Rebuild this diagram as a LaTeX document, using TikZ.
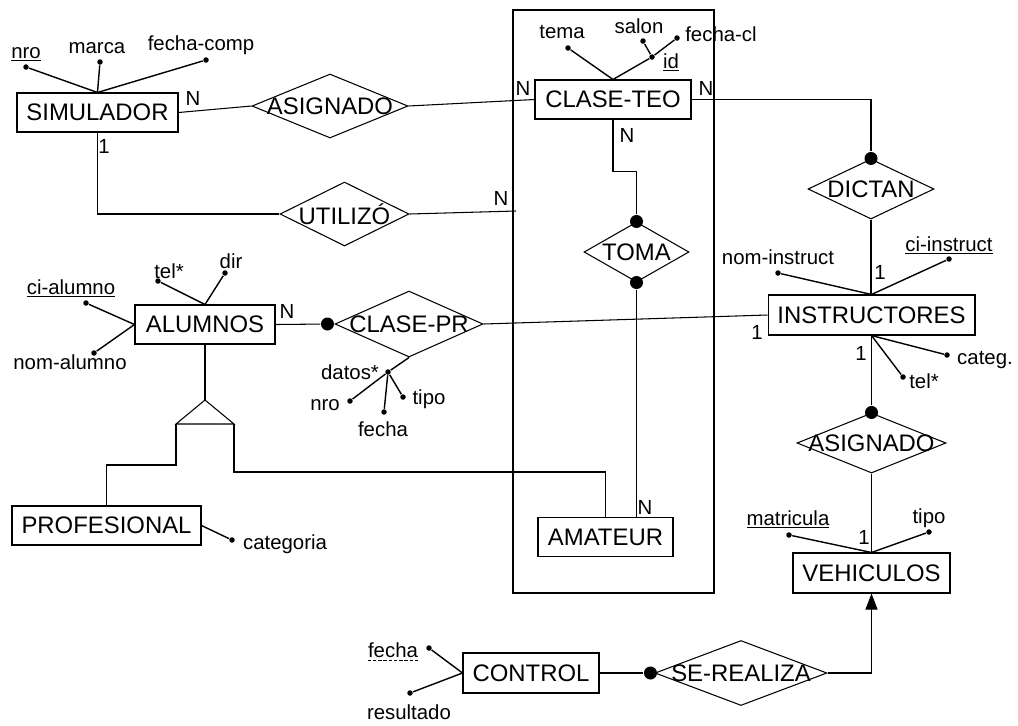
\documentclass[tikz,border=0pt]{standalone}
\usepackage{fontspec}
\setmainfont{Liberation Sans}
\usetikzlibrary{shapes.geometric,arrows.meta,positioning}

\newcommand{\rtext}[1]{\makebox[0pt]{#1}}

\begin{document}
\begin{tikzpicture}[x=0.02cm,y=-0.02cm,line width=0.6pt,
  ent/.style={draw,inner sep=0pt,minimum height=0.78cm,font=\fontsize{13.6}{15}\selectfont},
  rel/.style={draw,shape=diamond,inner sep=0pt,font=\fontsize{13.6}{15}\selectfont},
  attr/.style={circle,fill=black,inner sep=0pt,minimum size=0.11cm},
  part/.style={circle,fill=black,inner sep=0pt,minimum size=0.26cm},
  lbl/.style={inner sep=0pt,text height=8pt,text depth=0pt,font=\fontsize{11.6}{13}\selectfont},
  attrline/.style={line width=0.8pt}]

\useasboundingbox (0,0) rectangle (1018,725);

% grupo de clases
\draw (513,10) rectangle (714,593);

% entidades
\node[ent,minimum width=3.22cm] (simulador) at (97.5,112.5) {SIMULADOR};
\node[ent,minimum width=3.12cm] (claseteo) at (613,99.5) {CLASE-TEO};
\node[ent,minimum width=2.8cm] (alumnos) at (205,324.5) {ALUMNOS};
\node[ent,minimum width=4.14cm,minimum height=0.8cm] (instructores) at (871.5,315) {INSTRUCTORES};
\node[ent,minimum width=3.78cm] (profesional) at (106.5,525.5) {PROFESIONAL};
\node[ent,minimum width=2.7cm] (amateur) at (605.5,537) {AMATEUR};
\node[ent,minimum width=3.14cm,minimum height=0.8cm] (vehiculos) at (871.5,573) {VEHICULOS};
\node[ent,minimum width=2.72cm,minimum height=0.8cm] (control) at (531,673) {CONTROL};

% relaciones
\node[rel,minimum width=3.12cm,minimum height=1.28cm] (asignado) at (330,106) {\rtext{ASIGNADO}};
\node[rel,minimum width=2.58cm,minimum height=1.28cm] (utilizo) at (344.5,214) {\rtext{UTILIZÓ}};
\node[rel,minimum width=2.52cm,minimum height=1.2cm] (dictan) at (871,189) {\rtext{DICTAN}};
\node[rel,minimum width=2.1cm,minimum height=1.2cm] (toma) at (636.5,252) {\rtext{TOMA}};
\node[rel,minimum width=2.96cm,minimum height=1.32cm] (clasepr) at (409,324) {\rtext{CLASE-PR}};
\node[rel,minimum width=2.98cm,minimum height=1.2cm] (asigveh) at (871.5,443) {\rtext{ASIGNADO}};
\node[rel,minimum width=3.44cm,minimum height=1.3cm] (serealiza) at (741,673) {\rtext{SE-REALIZA}};

% participacion total
\node[part] (dictanD) at (dictan.north) {};
\node[part] (tomaDn) at (toma.north) {};
\node[part] (tomaDs) at (toma.south) {};
\node[part,left=0pt of clasepr.west] (clprD) {};
\node[part] (asigvehD) at (asigveh.north) {};
\node[part,left=-0.06cm of serealiza.west] (srD) {};

% vinculos
\coordinate (utilEnd) at (516,211);
\draw (simulador.east) -- (asignado.west);
\draw (asignado.east) -- (claseteo.west);
\draw (simulador.south) |- (utilizo.west);
\draw (utilizo.east) -- (utilEnd);
\draw (claseteo.east) -| (dictanD);
\draw (dictan.south) -- (dictan.south |- instructores.north);
\draw (claseteo.south) -- ++(0,52) -| (tomaDn);
\draw (tomaDs) -- (tomaDs |- amateur.north);
\draw (alumnos.east) -- (clprD);
\draw (clasepr.east) -- (instructores.west);
\draw (instructores.south) -- (asigvehD);
\draw (asigveh.south) -- (vehiculos.north);
\draw (control.east) -- (srD);
\draw[-{Triangle[length=0.32cm,width=0.24cm]}] (serealiza.east) -| (vehiculos.south);

% generalizacion
\coordinate (isaA) at (205,400);
\coordinate (isaL) at (176,424);
\coordinate (isaR) at (234,424);
\draw (alumnos.south) -- (isaA);
\draw (isaA) -- (isaL) -- (isaR) -- cycle;
\draw (isaL) -- ++(0,41) -| (profesional.north);
\draw (isaR) -- ++(0,48) -| (amateur.north);

% cardinalidades
\node[lbl] (cSimA) at (193,98) {N};
\node[lbl] (cSimU) at (104,146) {1};
\node[lbl] (cTeoA) at (523,88) {N};
\node[lbl] (cTeoD) at (706,88) {N};
\node[lbl] (cTeoT) at (627,135) {N};
\node[lbl] (cTeoU) at (501,198) {N};
\node[lbl] (cAlu) at (287,311) {N};
\node[lbl] (cAma) at (645,507) {N};
\node[lbl] (cInsD) at (880,272) {1};
\node[lbl] (cInsC) at (757,332) {1};
\node[lbl] (cInsA) at (861,353) {1};
\node[lbl] (cVeh) at (864,537) {1};

% atributos SIMULADOR
\node[attr] (nroS) at (26,67) {};
\node[attr] (marca) at (100,62) {};
\node[attr] (fcomp) at (206,60) {};
\node[lbl] (nroSL) at (26,51) {\underline{nro}};
\node[lbl] (marcaL) at (97,46) {marca};
\node[lbl] (fcompL) at (201,43) {fecha-comp};
\draw[attrline] (simulador.north) -- (nroS);
\draw[attrline] (simulador.north) -- (marca);
\draw[attrline] (simulador.north) -- (fcomp);

% atributos CLASE-TEO
\node[attr] (tema) at (568,48) {};
\node[attr] (idT) at (652,57) {};
\node[attr] (salon) at (643,41) {};
\node[attr] (fcl) at (677,38) {};
\node[lbl] (temaL) at (562,31) {tema};
\node[lbl] (salonL) at (639,26) {salon};
\node[lbl] (fclL) at (721,34) {fecha-cl};
\node[lbl] (idTL) at (671,61) {\underline{id}};
\draw[attrline] (claseteo.north) -- (tema);
\draw[attrline] (claseteo.north) -- (idT) -- (fcl);
\draw[attrline] (salon) -- (idT);

% atributos ALUMNOS
\node[attr] (cial) at (86,303) {};
\node[attr] (nomal) at (94,353) {};
\node[attr] (telA) at (158,281) {};
\node[attr] (dir) at (225,273) {};
\node[lbl] (cialL) at (71,287) {\underline{ci-alumno}};
\node[lbl] (nomalL) at (70,362) {nom-alumno};
\node[lbl] (telAL) at (169,271) {tel*};
\node[lbl] (dirL) at (231,261) {dir};
\draw[attrline] (alumnos.west) -- (cial);
\draw[attrline] (alumnos.west) -- (nomal);
\draw[attrline] (alumnos.north) -- (telA);
\draw[attrline] (alumnos.north) -- (dir);

% atributos CLASE-PR
\node[attr] (datos) at (388,372) {};
\node[attr] (nroP) at (350,401) {};
\node[attr] (fechaP) at (384,412) {};
\node[attr] (tipoP) at (403,397) {};
\node[lbl] (datosL) at (350,372) {datos*};
\node[lbl] (nroPL) at (325,403) {nro};
\node[lbl] (fechaPL) at (383,429) {fecha};
\node[lbl] (tipoPL) at (429,397) {tipo};
\draw[attrline] (clasepr.south) -- (datos);
\draw[attrline] (datos) -- (nroP);
\draw[attrline] (datos) -- (fechaP);
\draw[attrline] (datos) -- (tipoP);

% atributos PROFESIONAL
\node[attr] (categoria) at (232,540) {};
\node[lbl] (categoriaL) at (285,542) {categoria};
\draw[attrline] (profesional.east) -- (categoria);

% atributos INSTRUCTORES
\node[attr] (nomins) at (778,273) {};
\node[attr] (ciins) at (949,259) {};
\node[attr] (categ) at (947,355) {};
\node[attr] (telI) at (903,377) {};
\node[lbl] (nominsL) at (778,257) {nom-instruct};
\node[lbl] (ciinsL) at (949,244) {\underline{ci-instruct}};
\node[lbl] (categL) at (985,357) {categ.};
\node[lbl] (telIL) at (924,381) {tel*};
\draw[attrline] (instructores.north) -- (nomins);
\draw[attrline] (instructores.north) -- (ciins);
\draw[attrline] (instructores.south) -- (categ);
\draw[attrline] (instructores.south) -- (telI);

% atributos VEHICULOS
\node[attr] (matricula) at (789,535) {};
\node[attr] (tipoV) at (929,532) {};
\node[lbl] (matriculaL) at (788,518) {\underline{matricula}};
\node[lbl] (tipoVL) at (929,516) {tipo};
\draw[attrline] (vehiculos.north) -- (matricula);
\draw[attrline] (vehiculos.north) -- (tipoV);

% atributos CONTROL
\node[attr] (fechaC) at (429,648) {};
\node[attr] (result) at (410,693) {};
\node[lbl] (fechaCL) at (393,650) {fecha};
\node[lbl] (resultL) at (409,712) {resultado};
\draw[dashed,line width=0.4pt,dash pattern=on 2pt off 1pt] ([yshift=-1.8pt]fechaCL.south west) -- ([yshift=-1.8pt]fechaCL.south east);
\draw[attrline] (control.west) -- (fechaC);
\draw[attrline] (control.west) -- (result);

\end{tikzpicture}
\end{document}
